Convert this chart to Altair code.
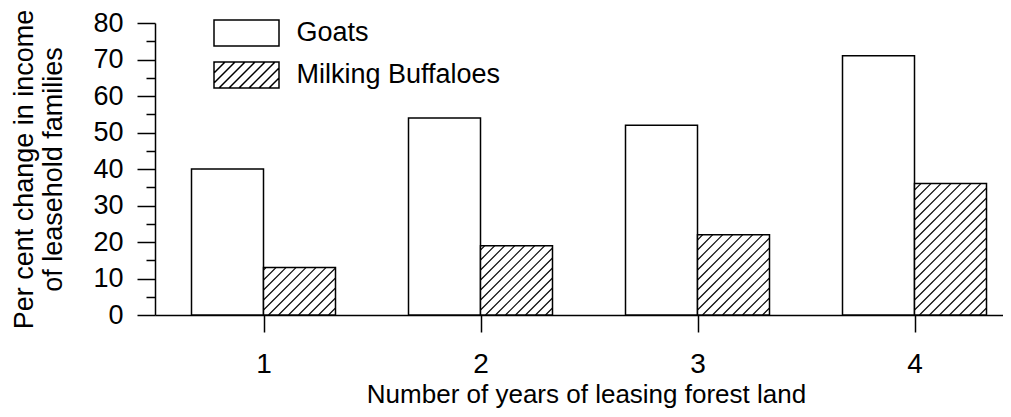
import math
import altair as alt
import pandas as pd

# ---------------- data ----------------
YEARS = [1, 2, 3, 4]
GOATS = [40, 54, 52, 71]
BUFFALOES = [13, 19, 22, 36]
SERIES = ["Goats", "Milking Buffaloes"]
Y_TICKS = list(range(0, 85, 5))
X_TICKS = [1, 2, 3, 4]

Y_TITLE = ["Per cent change in income", "of leasehold families"]
X_TITLE = "Number of years of leasing forest land"

# ---------------- layout / style ----------------
FONT = "Liberation Sans"
W_PLOT, H_PLOT = 848, 292
PX_PER_YEAR = 217.0
X_MIN = 0.5
X_MAX = X_MIN + W_PLOT / PX_PER_YEAR
Y_MAX = 80
SX = PX_PER_YEAR
SY = H_PLOT / Y_MAX
BAR_W = 72 / PX_PER_YEAR
HATCH_STEP = 10
HATCH_PHASE = 5
LINE_W = 1.5

records = []
for yr, g, b in zip(YEARS, GOATS, BUFFALOES):
    records.append({"year": yr, "series": SERIES[0], "value": g})
    records.append({"year": yr, "series": SERIES[1], "value": b})
df = pd.DataFrame(records)


# legend symbols (custom SVG paths, scaled by sqrt(size)/2 in Vega)
SYM_W, SYM_H = 65, 26
SYM_SIZE = SYM_H ** 2
R = math.sqrt(SYM_SIZE) / 2


def symbol_path(hatched):
    w, h = SYM_W, SYM_H
    parts = [f"M{-w/2/R:.3f},{-h/2/R:.3f}H{w/2/R:.3f}V{h/2/R:.3f}H{-w/2/R:.3f}Z"]
    if hatched:
        d = HATCH_PHASE - HATCH_STEP * math.ceil(h / HATCH_STEP)
        while d < w:
            xs, xe = max(0, d), min(w, d + h)
            if xs < xe:
                ys, ye = xs - d, xe - d
                parts.append(
                    f"M{(xs - w/2)/R:.3f},{(h/2 - ys)/R:.3f}"
                    f"L{(xe - w/2)/R:.3f},{(h/2 - ye)/R:.3f}"
                )
            d += HATCH_STEP
    return "".join(parts)


x_scale = alt.Scale(domain=[X_MIN, X_MAX], nice=False, zero=False)
y_scale = alt.Scale(domain=[0, Y_MAX], nice=False)

x_axis = alt.Axis(
    values=X_TICKS, format="d", grid=False,
    domainColor="black", domainWidth=LINE_W,
    tickColor="black", tickWidth=LINE_W, tickSize=17,
    labelFont=FONT, labelFontSize=28, labelColor="black",
    labelPadding=40, labelBaseline="alphabetic", labelFlush=False,
    title=X_TITLE, titleFont=FONT, titleFontSize=26, titleFontWeight="normal",
    titleColor="black", titleX=431, titleY=87, titleBaseline="alphabetic",
    titleAlign="center", titleAngle=0,
)
y_axis = alt.Axis(
    values=Y_TICKS, grid=False,
    labelExpr="datum.value % 10 === 0 ? datum.label : ''",
    labelOverlap=False, labelFlush=False,
    domainColor="black", domainWidth=LINE_W,
    tickColor="black", tickWidth=LINE_W,
    tickSize={"condition": {"test": "datum.value % 10 !== 0", "value": 9}, "value": 18},
    labelFont=FONT, labelFontSize=27, labelColor="black", labelPadding=14,
    title=Y_TITLE, titleFont=FONT, titleFontSize=27, titleFontWeight="normal",
    titleColor="black", titleX=-123, titleY=146, titleAngle=270,
    titleBaseline="alphabetic", titleAlign="center", titleLineHeight=29,
)

base = alt.Chart(df).transform_calculate(
    x0=f"datum.series === '{SERIES[0]}' ? datum.year - {BAR_W} : datum.year",
).transform_calculate(
    x1=f"datum.x0 + {BAR_W}", zero="0"
)

bars = base.mark_rect(fill="white", stroke="black", strokeWidth=LINE_W).encode(
    x=alt.X("x0:Q", scale=x_scale, axis=x_axis),
    x2="x1:Q",
    y=alt.Y("value:Q", scale=y_scale, axis=y_axis),
    y2="zero:Q",
)

hatch = base.transform_filter(
    f"datum.series === '{SERIES[1]}'"
).transform_calculate(
    XL=f"datum.x0 * {SX}",
    Hp=f"datum.value * {SY}",
    Wp=f"{BAR_W * SX}",
).transform_calculate(
    k=f"sequence(0, ceil((datum.Hp + datum.Wp) / {HATCH_STEP}) + 2)"
).transform_flatten(["k"]).transform_calculate(
    d=f"(datum.k - ceil(datum.Hp / {HATCH_STEP})) * {HATCH_STEP} + {HATCH_PHASE}"
).transform_calculate(
    xs="max(0, datum.d)", xe="min(datum.Wp, datum.d + datum.Hp)"
).transform_filter("datum.xs < datum.xe").transform_calculate(
    hx=f"(datum.XL + datum.xs) / {SX}",
    hx2=f"(datum.XL + datum.xe) / {SX}",
    hy=f"(datum.xs - datum.d) / {SY}",
    hy2=f"(datum.xe - datum.d) / {SY}",
).mark_rule(color="black", strokeWidth=1.1).encode(
    x=alt.X("hx:Q", scale=x_scale, axis=x_axis),
    x2="hx2:Q",
    y=alt.Y("hy:Q", scale=y_scale, axis=y_axis),
    y2="hy2:Q",
)

legend_layer = alt.Chart(df).transform_filter("false").mark_point(
    filled=False, stroke="black", strokeWidth=LINE_W,
    size=SYM_SIZE, opacity=1,
).encode(
    x=alt.X("year:Q", scale=x_scale, axis=x_axis),
    y=alt.Y("value:Q", scale=y_scale, axis=y_axis),
    shape=alt.Shape(
        "series:N",
        scale=alt.Scale(domain=SERIES, range=[symbol_path(False), symbol_path(True)]),
        legend=alt.Legend(
            title=None, orient="none", legendX=77.5, legendY=-4,
            symbolSize=SYM_SIZE, symbolStrokeWidth=LINE_W,
            symbolStrokeColor="black", symbolOpacity=1,
            labelFont=FONT, labelFontSize=27, labelColor="black", labelLimit=0,
            labelOffset=36, rowPadding=10,
        ),
    ),
)

chart = alt.layer(bars, hatch, legend_layer).properties(
    width=W_PLOT, height=H_PLOT,
    padding={"left": 147, "top": 15, "right": 0, "bottom": 94},
    autosize=alt.AutoSizeParams(type="none"),
    background="white",
).configure_view(stroke=None)

chart.save("out.html", embed_options={"renderer": "svg", "actions": False})
